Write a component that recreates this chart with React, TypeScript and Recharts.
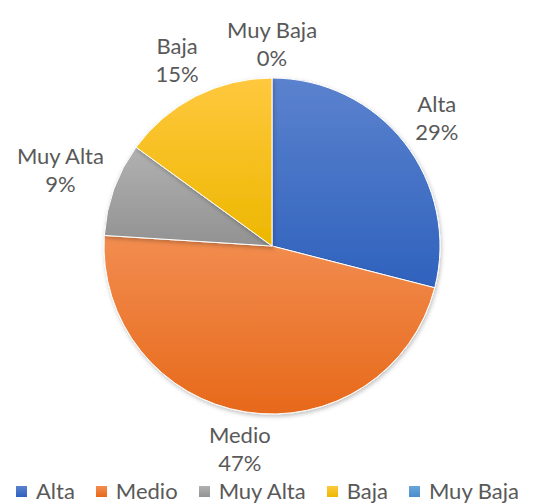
import React from 'react'
import { PieChart, Pie, Cell, Legend } from 'recharts'

const categories = ['Alta', 'Medio', 'Muy Alta', 'Baja', 'Muy Baja']
const shares = [29, 47, 9, 15, 0]
const topColors = ['#5B82CE', '#F28D50', '#B1B1B1', '#FFC83E', '#6AA5DA']
const bottomColors = ['#2F62BD', '#E7691A', '#929292', '#EDB700', '#4A8DCB']

const data = categories.map((name, i) => ({ name, value: shares[i] }))

const FONT = 'Lato, "Open Sans", sans-serif'
const FS = 22
const LINE = 28
const RAD = Math.PI / 180

const renderLabel = (props: any) => {
  const { cx, cy, midAngle, outerRadius, name, value } = props
  const lines = [name, `${value}%`]
  const w = Math.max(...lines.map((l: string) => l.length)) * FS * 0.5
  const h = LINE * 2
  const cos = Math.cos(-midAngle * RAD)
  const sin = Math.sin(-midAngle * RAD)
  const dist = outerRadius + 6 + Math.abs(cos) * w / 2 + Math.abs(sin) * h / 2
  const x = cx + dist * cos
  const y = cy + dist * sin
  return (
    <text x={x} y={y} textAnchor="middle" fill="#595959" fontSize={FS} fontFamily={FONT}>
      <tspan x={x} dy={-6}>{lines[0]}</tspan>
      <tspan x={x} dy={LINE}>{lines[1]}</tspan>
    </text>
  )
}

const renderLegend = () => (
  <div style={{ display: 'flex', justifyContent: 'center', gap: 21, fontFamily: FONT, fontSize: FS, color: '#595959', lineHeight: '26px' }}>
    {categories.map((c, i) => (
      <div key={c} style={{ display: 'flex', alignItems: 'center' }}>
        <svg width={11} height={11} style={{ marginRight: 9 }}>
          <rect width={11} height={11} fill={`url(#grad${i})`} />
        </svg>
        {c}
      </div>
    ))}
  </div>
)

export default function App() {
  return (
    <div style={{ position: 'absolute', left: 0, top: 0, background: '#fff' }}>
      <PieChart width={535} height={504} margin={{ top: 0, right: 0, bottom: 0, left: 0 }}>
        <defs>
          {categories.map((c, i) => (
            <linearGradient key={c} id={`grad${i}`} x1="0" y1="0" x2="0" y2="1">
              <stop offset="0%" stopColor={topColors[i]} />
              <stop offset="100%" stopColor={bottomColors[i]} />
            </linearGradient>
          ))}
          <filter id="shadow" x="-10%" y="-10%" width="120%" height="120%">
            <feDropShadow dx="1" dy="2" stdDeviation="2" floodColor="#000" floodOpacity="0.25" />
          </filter>
        </defs>
        <Pie
          data={data}
          dataKey="value"
          nameKey="name"
          cx={272}
          cy={246}
          outerRadius={168}
          startAngle={90}
          endAngle={-270}
          stroke="#fff"
          strokeWidth={1}
          label={renderLabel}
          labelLine={false}
          isAnimationActive={false}
          style={{ filter: 'url(#shadow)' }}
        >
          {data.map((d, i) => (
            <Cell key={d.name} fill={`url(#grad${i})`} />
          ))}
        </Pie>
        <Legend verticalAlign="bottom" content={renderLegend} wrapperStyle={{ bottom: 0 }} />
      </PieChart>
    </div>
  )
}
